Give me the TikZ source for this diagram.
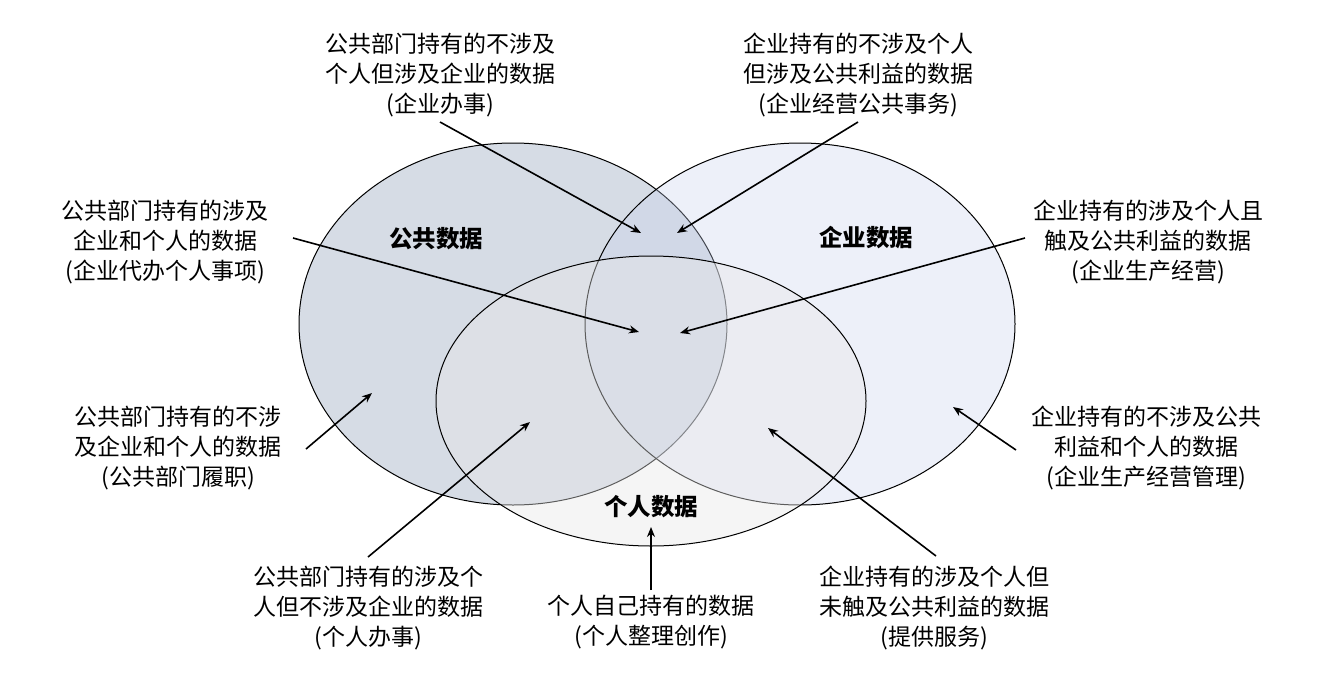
\documentclass[tikz,border=0pt]{standalone}
\usepackage{fontspec}
\setmainfont{Noto Sans CJK SC}
\usetikzlibrary{arrows.meta}
\definecolor{pubfill}{HTML}{D6DCE5}
\definecolor{entfill}{HTML}{C8D2EE}
\definecolor{perfill}{HTML}{E8E8E8}
\begin{document}
\begin{tikzpicture}[x=1pt,y=-1pt,
  lbl/.style={inner sep=0pt,align=center,font=\fontsize{23}{30}\selectfont},
  title/.style={inner sep=0pt,font=\fontsize{23.5}{30}\selectfont\bfseries},
  arr/.style={line width=1.6pt,-{Stealth[length=10pt,width=8pt]}},
  setline/.style={line width=1pt,draw=black}]
\useasboundingbox (0,0) rectangle (1319,678);
\fill[white] (0,0) rectangle (1319,678);
% sets
\draw[setline,fill=pubfill] (513,324) ellipse [x radius=214pt,y radius=181pt];
\draw[setline,fill=entfill,fill opacity=0.32] (800,324) ellipse [x radius=215pt,y radius=181pt];
\draw[setline,fill=perfill,fill opacity=0.4] (651,401) ellipse [x radius=215pt,y radius=145pt];
% set titles
\node[title] (tpub) at (436,239) {公共数据};
\node[title] (tent) at (866,238) {企业数据};
\node[title] (tper) at (651,507) {个人数据};
% labels
\node[lbl] (l1) at (440,75) {公共部门持有的不涉及\\个人但涉及企业的数据\\(企业办事)};
\node[lbl] (l2) at (858,75) {企业持有的不涉及个人\\但涉及公共利益的数据\\(企业经营公共事务)};
\node[lbl] (l3) at (165,242) {公共部门持有的涉及\\企业和个人的数据\\(企业代办个人事项)};
\node[lbl] (l4) at (1148,242) {企业持有的涉及个人且\\触及公共利益的数据\\(企业生产经营)};
\node[lbl] (l5) at (178,448) {公共部门持有的不涉\\及企业和个人的数据\\(公共部门履职)};
\node[lbl] (l6) at (1146,448) {企业持有的不涉及公共\\利益和个人的数据\\(企业生产经营管理)};
\node[lbl] (l7) at (368,608) {公共部门持有的涉及个\\人但不涉及企业的数据\\(个人办事)};
\node[lbl] (l8) at (651,622) {个人自己持有的数据\\(个人整理创作)};
\node[lbl] (l9) at (934,608) {企业持有的涉及个人但\\未触及公共利益的数据\\(提供服务)};
% arrow end points
\coordinate (s1) at (440,122); \coordinate (t1) at (641,233);
\coordinate (s2) at (858,122); \coordinate (t2) at (677,233);
\coordinate (s3) at (293,238); \coordinate (t3) at (639,332);
\coordinate (s4) at (1025,238); \coordinate (t4) at (680,333);
\coordinate (s5) at (306,449); \coordinate (t5) at (372,393);
\coordinate (s6) at (368,557); \coordinate (t6) at (530,422);
\coordinate (s7) at (651,590); \coordinate (t7) at (651,527);
\coordinate (s8) at (936,556); \coordinate (t8) at (768,428);
\coordinate (s9) at (1016,450); \coordinate (t9) at (953,407);
\foreach \i in {1,...,9} {\draw[arr] (s\i) -- (t\i);}
\end{tikzpicture}
\end{document}
